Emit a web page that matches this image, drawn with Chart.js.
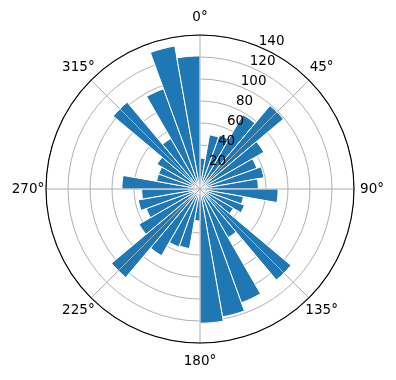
<!DOCTYPE html>
<html>
<head>
<meta charset="utf-8">
<script src="https://cdn.jsdelivr.net/npm/chart.js@4/dist/chart.umd.min.js"></script>
<style>
  html, body { margin: 0; padding: 0; background: #fff; }
  #wrap { width: 396px; height: 380px; }
</style>
</head>
<body>
<div id="wrap"><canvas id="rose"></canvas></div>
<script>
// Direction bins (start of each 10 degree sector, clockwise from north)
const sectors = ['0', '10', '20', '30', '40', '50', '60', '70', '80',
                 '90', '100', '110', '120', '130', '140', '150', '160', '170',
                 '180', '190', '200', '210', '220', '230', '240', '250', '260',
                 '270', '280', '290', '300', '310', '320', '330', '340', '350'];

// Bar heights
const counts = [28, 50, 52, 78, 99, 67, 55, 59, 53,
                71, 40, 43, 35, 108, 51, 110, 118, 122,
                29, 55, 56, 70, 105, 64, 52, 57, 53,
                71, 40, 40, 45, 103, 53, 97, 132, 121];

const radialTicks = [20, 40, 60, 80, 100, 120, 140];
const angleTicks = ['0°', '45°', '90°', '135°', '180°', '225°', '270°', '315°'];

const FONT = '13.5px "DejaVu Sans"';
const GRID = '#b0b0b0';

// grid spokes, black outer ring and all the labels, drawn on top of the bars
const polarDecor = {
    id: 'polarDecor',
    afterDraw(chart) {
        const scale = chart.scales.r;
        const ctx = chart.ctx;
        const cx = scale.xCenter;
        const cy = scale.yCenter;
        const rMax = scale.getDistanceFromCenterForValue(140);

        ctx.save();
        ctx.strokeStyle = GRID;
        ctx.lineWidth = 1;
        angleTicks.forEach((t, i) => {
            const a = i * Math.PI / 4;
            ctx.beginPath();
            ctx.moveTo(cx, cy);
            ctx.lineTo(cx + rMax * Math.sin(a), cy - rMax * Math.cos(a));
            ctx.stroke();
        });

        ctx.strokeStyle = '#000';
        ctx.lineWidth = 1.1;
        ctx.beginPath();
        ctx.arc(cx, cy, rMax, 0, Math.PI * 2);
        ctx.stroke();

        ctx.fillStyle = '#000';
        ctx.font = FONT;
        ctx.textAlign = 'center';
        ctx.textBaseline = 'middle';

        // radial tick labels sit along a ray a bit past 22.5 deg
        const la = 24.2 * Math.PI / 180;
        radialTicks.forEach(v => {
            const d = scale.getDistanceFromCenterForValue(v);
            ctx.fillText(String(v), cx + 8.5 + d * Math.sin(la), cy - 7 - d * Math.cos(la));
        });

        angleTicks.forEach((t, i) => {
            const a = i * Math.PI / 4;
            const d = rMax + 18;
            ctx.fillText(t, cx + d * Math.sin(a), cy - d * Math.cos(a));
        });
        ctx.restore();
    }
};

new Chart(document.getElementById('rose'), {
    type: 'polarArea',
    data: {
        labels: sectors,
        datasets: [{
            data: counts,
            backgroundColor: '#1f77b4',
            borderColor: '#ffffff',
            borderWidth: 1
        }]
    },
    options: {
        responsive: true,
        maintainAspectRatio: false,
        animation: false,
        layout: { padding: { left: 46, right: 42, top: 35, bottom: 37 } },
        plugins: {
            legend: { display: false },
            tooltip: { enabled: false }
        },
        scales: {
            r: {
                min: 0,
                max: 140,
                startAngle: 0,
                z: 1,
                ticks: { display: false, stepSize: 20 },
                grid: { color: GRID, lineWidth: 1 },
                angleLines: { display: false },
                pointLabels: { display: false }
            }
        }
    },
    plugins: [polarDecor]
});
</script>
</body>
</html>
